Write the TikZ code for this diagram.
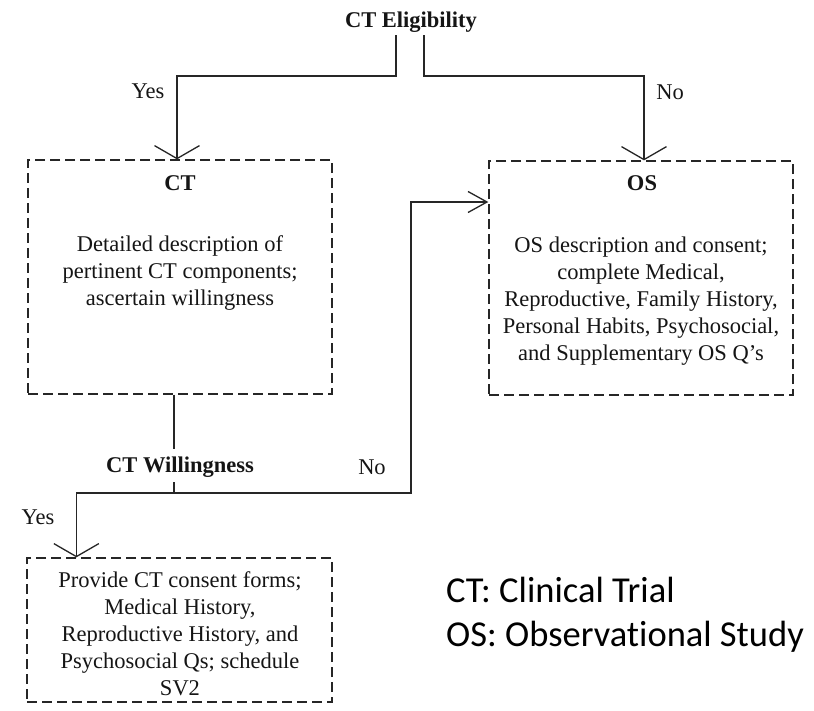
\documentclass[tikz,border=0pt]{standalone}
\usepackage{fontspec}
\setmainfont{Liberation Serif}
\newfontfamily\legendfont[Ligatures={NoCommon}]{Carlito}
\usetikzlibrary{arrows.meta}
\definecolor{linec}{HTML}{262626}
\definecolor{textc}{HTML}{151515}
\begin{document}
\begin{tikzpicture}[x=1pt,y=-1pt,
  line/.style={draw=linec, line width=1.3pt},
  box/.style={draw=linec, line width=1.3pt, dash pattern=on 10pt off 5pt, rectangle, inner sep=0pt},
  varrow/.style={-{Straight Barb[length=13pt,width=45pt]}},
  harrow/.style={-{Straight Barb[length=19pt,width=21pt]}},
  txt/.style={font=\fontsize{22.5}{27}\selectfont, text=textc, inner sep=0pt, align=center},
  ttl/.style={font=\fontsize{22.5}{27}\selectfont\bfseries, text=textc, inner sep=0pt, align=center},
  legend/.style={font=\legendfont\fontsize{36.5}{44}\selectfont, text=black, inner sep=0pt, anchor=base west}
]
\fill[white] (0,0) rectangle (814,710);
\useasboundingbox (0,0) rectangle (814,710);

% boxes
\node[box, minimum width=304pt, minimum height=234pt] (ct) at (180,277) {};
\node[box, minimum width=304pt, minimum height=234pt] (os) at (641,278) {};
\node[box, minimum width=305pt, minimum height=144pt] (sv) at (179.5,630) {};

% texts
\node[ttl] (elig) at (411,22) {CT Eligibility};
\node[ttl] (cttitle) at (180,183) {CT};
\node[ttl] (ostitle) at (642,183) {OS};
\node[ttl] (will) at (180,467) {CT Willingness};
\node[txt] (ctbody) at (180,273) {Detailed description of\\pertinent CT components;\\ascertain willingness};
\node[txt] (osbody) at (641,301) {OS description and consent;\\complete Medical,\\Reproductive, Family History,\\Personal Habits, Psychosocial,\\and Supplementary OS Q’s};
\node[txt] (svbody) at (180,634) {Provide CT consent forms;\\Medical History,\\Reproductive History, and\\Psychosocial Qs; schedule\\SV2};
\node[txt] (yes1) at (148,91) {Yes};
\node[txt] (no1) at (670,92) {No};
\node[txt] (no2) at (372,467) {No};
\node[txt] (yes2) at (38,517) {Yes};

% legend
\node[legend] (leg1) at (446,602) {CT: Clinical Trial};
\node[legend] (leg2) at (446,646) {OS: Observational Study};

% connectors
\coordinate (e1) at (396,35);
\coordinate (e2) at (424,35);
\coordinate (jy) at (0,76);
\draw[line,varrow] (e1) -- (e1 |- jy) -| ([xshift=-3pt]ct.north);
\draw[line,varrow] (e2) -- (e2 |- jy) -| ([xshift=3pt]os.north);

\coordinate (wt) at (174,449);
\coordinate (wb) at (174,482);
\coordinate (wj) at (174,493);
\coordinate (nx) at (411,493);
\draw[line] ([xshift=-6pt]ct.south) -- (wt);
\draw[line] (wb) -- (wj);
\draw[line,varrow] (wj) -| ([xshift=50pt]sv.north west);
\draw[line,harrow] (wj) -- (nx) |- ([yshift=76pt]os.west);
\end{tikzpicture}
\end{document}
